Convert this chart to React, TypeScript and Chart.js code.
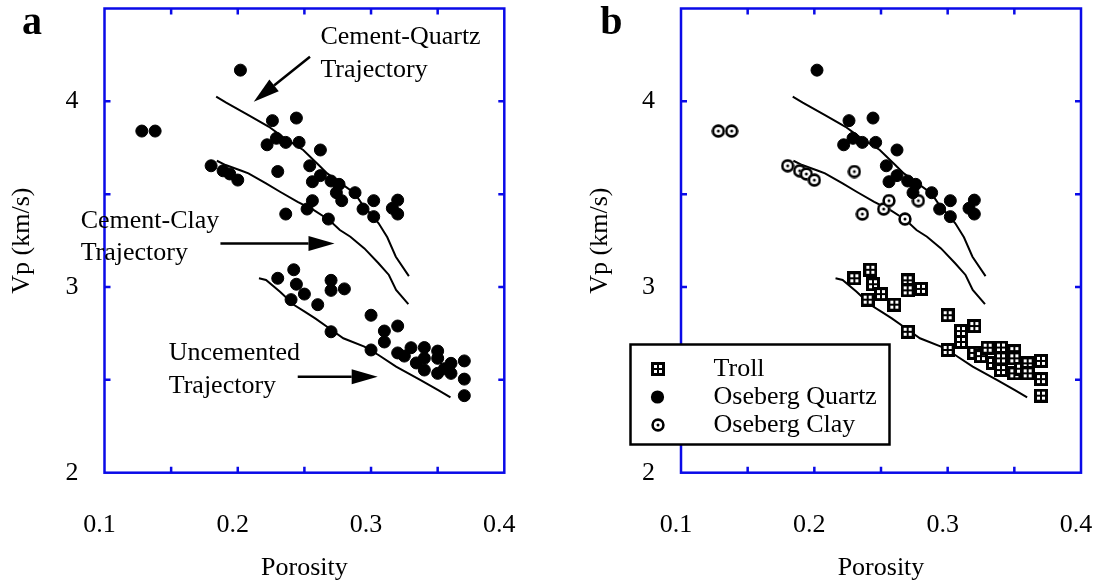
import React, { useEffect, useRef } from 'react';
import { Chart, registerables } from 'chart.js';

Chart.register(...registerables);

// ---------- data ----------
const quartzPorosity = [0.202, 0.226, 0.244, 0.222, 0.229, 0.236, 0.246, 0.262, 0.254, 0.262, 0.256, 0.270, 0.276, 0.274, 0.288, 0.302, 0.294, 0.302, 0.320, 0.316, 0.320];
const quartzVp = [4.168, 3.896, 3.910, 3.766, 3.801, 3.779, 3.779, 3.738, 3.653, 3.600, 3.567, 3.571, 3.553, 3.508, 3.508, 3.465, 3.420, 3.379, 3.468, 3.424, 3.393];

const clayPorosity = [0.128, 0.138, 0.180, 0.189, 0.194, 0.200, 0.230, 0.236, 0.252, 0.256, 0.268, 0.278];
const clayVp = [3.840, 3.840, 3.653, 3.626, 3.609, 3.576, 3.622, 3.393, 3.420, 3.465, 3.366, 3.465];

const trollPorosity = [0.230, 0.242, 0.244, 0.240, 0.250, 0.260, 0.270, 0.270, 0.280, 0.270, 0.300, 0.310, 0.320, 0.310, 0.300, 0.320, 0.325, 0.330, 0.340, 0.350, 0.334, 0.340, 0.340, 0.350, 0.350, 0.355, 0.360, 0.360, 0.370, 0.370, 0.370];
const trollVp = [3.047, 3.093, 3.015, 2.932, 2.962, 2.905, 3.036, 2.982, 2.990, 2.759, 2.848, 2.763, 2.790, 2.704, 2.661, 2.645, 2.628, 2.673, 2.674, 2.655, 2.591, 2.616, 2.553, 2.616, 2.535, 2.560, 2.589, 2.535, 2.602, 2.504, 2.415];

const cementQuartzPorosity = [0.1838, 0.1913, 0.208, 0.2234, 0.2337, 0.2491, 0.2607, 0.2671, 0.2774, 0.2877, 0.2929, 0.3057, 0.3122, 0.3186, 0.3284];
const cementQuartzVp = [4.025, 3.993, 3.926, 3.863, 3.809, 3.738, 3.657, 3.612, 3.558, 3.505, 3.451, 3.343, 3.268, 3.163, 3.059];

const cementClayPorosity = [0.1843, 0.1909, 0.2028, 0.208, 0.2212, 0.2317, 0.2449, 0.2568, 0.2686, 0.2766, 0.2845, 0.295, 0.3056, 0.3134, 0.3188, 0.328];
const cementClayVp = [3.680, 3.657, 3.626, 3.612, 3.558, 3.513, 3.459, 3.415, 3.361, 3.307, 3.271, 3.208, 3.128, 3.065, 2.984, 2.908];

const uncementedPorosity = [0.2159, 0.2212, 0.2317, 0.2423, 0.2502, 0.2581, 0.2686, 0.2792, 0.295, 0.3056, 0.3188, 0.3372, 0.3504, 0.3596];
const uncementedVp = [3.047, 3.038, 2.975, 2.903, 2.867, 2.831, 2.778, 2.724, 2.679, 2.634, 2.571, 2.499, 2.445, 2.406];

const xTickValues = [0.1, 0.2, 0.3, 0.4];
const yTickValues = [2, 3, 4];
const xFrameTicks = [0.15, 0.2, 0.25, 0.3, 0.35];
const yFrameTicks = [2.5, 3, 3.5, 4];
const legendLabels = ['Troll', 'Oseberg Quartz', 'Oseberg Clay'];

// annotation text (panel a), anchored in data space
const annotationTexts = [
  { lines: ['Cement-Quartz', 'Trajectory'], x: 0.262, y: [4.348, 4.168] },
  { lines: ['Cement-Clay', 'Trajectory'], x: 0.0821, y: [3.357, 3.183] },
  { lines: ['Uncemented', 'Trajectory'], x: 0.1482, y: [2.643, 2.467] },
];
const annotationArrows = [
  { from: [0.2542, 4.240], to: [0.212, 3.998] },
  { from: [0.187, 3.235], to: [0.2726, 3.235] },
  { from: [0.245, 2.517], to: [0.305, 2.517] },
];

const BLUE = '#0a0ae8';
const FONT_FAMILY = '"Liberation Serif", "Times New Roman", serif';

const pts = (xs: number[], ys: number[]) => xs.map((x, i) => ({ x, y: ys[i] }));

function makeTrollImage(): HTMLCanvasElement {
  const c = document.createElement('canvas');
  c.width = 14; c.height = 14;
  const g = c.getContext('2d')!;
  g.fillStyle = '#000';
  g.fillRect(0, 0, 14, 14);
  g.fillStyle = '#fff';
  [[3, 3], [8, 3], [3, 8], [8, 8]].forEach(([x, y]) => g.fillRect(x, y, 3, 3));
  return c;
}

function makeClayImage(): HTMLCanvasElement {
  const c = document.createElement('canvas');
  c.width = 14; c.height = 14;
  const g = c.getContext('2d')!;
  g.fillStyle = '#fff';
  g.beginPath(); g.arc(7, 7, 6.5, 0, Math.PI * 2); g.fill();
  g.strokeStyle = '#000';
  g.lineWidth = 2.6;
  g.beginPath(); g.arc(7, 7, 5.4, 0, Math.PI * 2); g.stroke();
  g.fillStyle = '#000';
  g.beginPath(); g.arc(7, 7, 1.5, 0, Math.PI * 2); g.fill();
  return c;
}

function drawArrow(ctx: CanvasRenderingContext2D, x1: number, y1: number, x2: number, y2: number) {
  const len = 26, half = 7.5;
  const ang = Math.atan2(y2 - y1, x2 - x1);
  const bx = x2 - len * Math.cos(ang), by = y2 - len * Math.sin(ang);
  ctx.beginPath();
  ctx.moveTo(x1, y1);
  ctx.lineTo(bx, by);
  ctx.stroke();
  ctx.beginPath();
  ctx.moveTo(x2, y2);
  ctx.lineTo(bx + half * Math.sin(ang), by - half * Math.cos(ang));
  ctx.lineTo(bx - half * Math.sin(ang), by + half * Math.cos(ang));
  ctx.closePath();
  ctx.fill();
}

function buildChart(canvas: HTMLCanvasElement, panel: 'a' | 'b') {
  const trollImg = makeTrollImage();
  const clayImg = makeClayImage();
  const isA = panel === 'a';
  const areaLeft = isA ? 104.5 : 121;
  const padRight = isA ? 55.7 : 18;
  const yTitlePad = isA ? 6.4 : 24.4;

  const lineDs = (xs: number[], ys: number[]) => ({
    data: pts(xs, ys),
    showLine: true,
    borderColor: '#000',
    borderWidth: 2,
    pointRadius: 0,
    pointHoverRadius: 0,
    fill: false,
    tension: 0,
  });

  const dot = (xs: number[], ys: number[]) => ({
    data: pts(xs, ys),
    pointStyle: 'circle',
    pointRadius: 6,
    pointBorderWidth: 1,
    pointBackgroundColor: '#000',
    pointBorderColor: '#000',
    showLine: false,
  });

  const datasets: any[] = isA
    ? [
        dot(quartzPorosity, quartzVp),
        dot(clayPorosity, clayVp),
        dot(trollPorosity, trollVp),
      ]
    : [
        { data: pts(trollPorosity, trollVp), pointStyle: trollImg, pointRadius: 7, showLine: false },
        dot(quartzPorosity, quartzVp),
        { data: pts(clayPorosity, clayVp), pointStyle: clayImg, pointRadius: 7, showLine: false },
      ];
  datasets.push(lineDs(cementQuartzPorosity, cementQuartzVp));
  datasets.push(lineDs(cementClayPorosity, cementClayVp));
  datasets.push(lineDs(uncementedPorosity, uncementedVp));

  const framePlugin = {
    id: 'frame' + panel,
    beforeDatasetsDraw(chart: any) {
      const { ctx, chartArea } = chart;
      const { left, right, top, bottom } = chartArea;
      const xs = chart.scales.x, ys = chart.scales.y;
      ctx.save();
      ctx.strokeStyle = BLUE;
      ctx.lineWidth = 2.5;
      ctx.strokeRect(left, top, right - left, bottom - top);
      const tl = 6;
      ctx.beginPath();
      xFrameTicks.forEach((v) => {
        const px = xs.getPixelForValue(v);
        ctx.moveTo(px, bottom); ctx.lineTo(px, bottom - tl);
        ctx.moveTo(px, top); ctx.lineTo(px, top + tl);
      });
      yFrameTicks.forEach((v) => {
        const py = ys.getPixelForValue(v);
        ctx.moveTo(left, py); ctx.lineTo(left + tl, py);
        ctx.moveTo(right, py); ctx.lineTo(right - tl, py);
      });
      ctx.stroke();
      ctx.restore();
    },
    afterDraw(chart: any) {
      const { ctx, chartArea } = chart;
      const xs = chart.scales.x, ys = chart.scales.y;
      ctx.save();
      // panel letter
      ctx.fillStyle = '#000';
      ctx.font = 'bold 40px ' + FONT_FAMILY;
      ctx.textAlign = 'left';
      ctx.textBaseline = 'alphabetic';
      ctx.fillText(panel, xs.getPixelForValue(isA ? 0.0381 : 0.0395), ys.getPixelForValue(4.362));

      if (isA) {
        ctx.font = '26px ' + FONT_FAMILY;
        ctx.textBaseline = 'middle';
        annotationTexts.forEach((a) => {
          a.lines.forEach((ln, i) => ctx.fillText(ln, xs.getPixelForValue(a.x), ys.getPixelForValue(a.y[i])));
        });
        ctx.strokeStyle = '#000';
        ctx.lineWidth = 2.5;
        annotationArrows.forEach((ar) => {
          drawArrow(ctx,
            xs.getPixelForValue(ar.from[0]), ys.getPixelForValue(ar.from[1]),
            xs.getPixelForValue(ar.to[0]), ys.getPixelForValue(ar.to[1]));
        });
      } else {
        // legend box
        const bl = chartArea.left - 50.5;
        const bt = chartArea.top + 336;
        const bw = 259, bh = 100;
        ctx.fillStyle = '#fff';
        ctx.fillRect(bl, bt, bw, bh);
        ctx.strokeStyle = '#000';
        ctx.lineWidth = 2.5;
        ctx.strokeRect(bl, bt, bw, bh);
        const rowY = [bt + 24.5, bt + 52.5, bt + 80.5];
        const symX = bl + 27;
        ctx.drawImage(trollImg, Math.round(symX - 7), Math.round(rowY[0] - 7));
        ctx.fillStyle = '#000';
        ctx.beginPath(); ctx.arc(symX, rowY[1], 6.6, 0, Math.PI * 2); ctx.fill();
        ctx.drawImage(clayImg, Math.round(symX - 7), Math.round(rowY[2] - 7));
        ctx.font = '26px ' + FONT_FAMILY;
        ctx.textAlign = 'left';
        ctx.textBaseline = 'middle';
        legendLabels.forEach((t, i) => ctx.fillText(t, bl + 83, rowY[i]));
      }
      ctx.restore();
    },
  };

  return new Chart(canvas, {
    type: 'scatter',
    data: { datasets },
    options: {
      animation: false,
      responsive: false,
      devicePixelRatio: 1,
      events: [],
      layout: { padding: { top: 8.5, right: padRight, left: 0, bottom: 0 } },
      plugins: { legend: { display: false }, tooltip: { enabled: false } },
      elements: { point: { hoverRadius: 0 } },
      scales: {
        x: {
          type: 'linear',
          min: 0.1,
          max: 0.4,
          grid: { display: false, drawTicks: false },
          border: { display: false },
          afterBuildTicks: (s: any) => { s.ticks = xTickValues.map((value) => ({ value })); },
          afterFit: (s: any) => { s.height = 112.3; s.paddingLeft = 0; s.paddingRight = 0; },
          ticks: {
            padding: 36.7,
            labelOffset: -5,
            maxRotation: 0,
            autoSkip: false,
            color: '#000',
            font: { family: FONT_FAMILY, size: 26 },
            callback: (v: any) => Number(v).toFixed(1),
          },
          title: {
            display: true,
            text: 'Porosity',
            color: '#000',
            font: { family: FONT_FAMILY, size: 26 },
            padding: { top: 0, bottom: 1 },
          },
        },
        y: {
          type: 'linear',
          min: 2,
          max: 4.5,
          grid: { display: false, drawTicks: false },
          border: { display: false },
          afterBuildTicks: (s: any) => { s.ticks = yTickValues.map((value) => ({ value })); },
          afterFit: (s: any) => { s.width = areaLeft; s.paddingTop = 0; s.paddingBottom = 0; },
          ticks: {
            padding: 26,
            color: '#000',
            autoSkip: false,
            font: { family: FONT_FAMILY, size: 26 },
            callback: (v: any) => String(v),
          },
          title: {
            display: true,
            text: 'Vp (km/s)',
            color: '#000',
            font: { family: FONT_FAMILY, size: 26 },
            padding: { top: yTitlePad, bottom: 0 },
          },
        },
      },
    } as any,
    plugins: [framePlugin],
  });
}

export default function App() {
  const refA = useRef<HTMLCanvasElement>(null);
  const refB = useRef<HTMLCanvasElement>(null);

  useEffect(() => {
    const a = buildChart(refA.current!, 'a');
    const b = buildChart(refB.current!, 'b');
    return () => { a.destroy(); b.destroy(); };
  }, []);

  return (
    <div style={{ position: 'fixed', left: 0, top: 0, width: 1099, height: 585, background: '#fff' }}>
      <canvas ref={refA} width={560} height={585} style={{ position: 'absolute', left: 0, top: 0, width: 560, height: 585 }} />
      <canvas ref={refB} width={539} height={585} style={{ position: 'absolute', left: 560, top: 0, width: 539, height: 585 }} />
    </div>
  );
}
